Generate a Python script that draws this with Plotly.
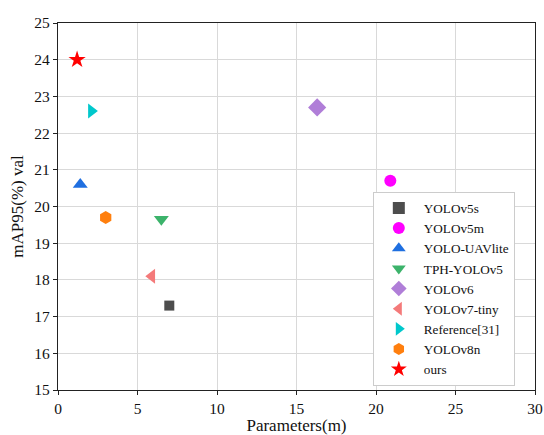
import plotly.graph_objects as go

names = ["YOLOv5s", "YOLOv5m", "YOLO-UAVlite", "TPH-YOLOv5", "YOLOv6",
         "YOLOv7-tiny", "Reference[31]", "YOLOv8n", "ours"]
params = [7.0, 20.9, 1.4, 6.5, 16.3, 5.9, 2.1, 3.0, 1.2]
map95 = [17.3, 20.7, 20.6, 19.65, 22.7, 18.1, 22.6, 19.7, 24.0]
symbols = ["square", "circle", "triangle-up", "triangle-down", "diamond",
           "triangle-left", "triangle-right", "hexagon", "star"]
colors = ["#4d4d4d", "#ff00ff", "#1f6fe0", "#3cb36b", "#b07ed8",
          "#f47a7a", "#00c8cc", "#ff7f0e", "#ff0000"]
sizes = [10, 12, 13, 13, 14, 13, 13, 13, 13]
xticks = [0, 5, 10, 15, 20, 25, 30]
yticks = [15, 16, 17, 18, 19, 20, 21, 22, 23, 24, 25]

fig = go.Figure()
for n, x, y, s, c, sz in zip(names, params, map95, symbols, colors, sizes):
    fig.add_trace(go.Scatter(x=[x], y=[y], mode="markers", name=n,
                             marker=dict(symbol=s, color=c, size=sz, line=dict(width=0))))

font = "Liberation Serif"
fig.update_layout(
    width=544, height=435,
    margin=dict(l=58, r=9, t=23, b=45, autoexpand=False),
    paper_bgcolor="white", plot_bgcolor="white",
    font=dict(family=font, size=15, color="#111"),
    legend=dict(x=0.66, y=0.54, xanchor="left", yanchor="top",
                bordercolor="#cccccc", borderwidth=1, bgcolor="white",
                font=dict(family=font, size=13.2), tracegroupgap=0,
                itemsizing="constant", itemwidth=40),
    xaxis=dict(range=[0, 30], tickvals=xticks, ticktext=[str(v) for v in xticks],
               showgrid=True, gridcolor="#d9d9d9", ticklabeloverflow="allow",
               automargin=False,
               showline=True, linecolor="#222", linewidth=1.2, mirror=True,
               ticks="outside", ticklen=4, tickcolor="#222",
               tickfont=dict(family=font, size=15.5),
               title=dict(text="Parameters(m)", standoff=2, font=dict(family=font, size=17)),
               zeroline=False),
    yaxis=dict(range=[15, 25], tickvals=yticks, showgrid=True, gridcolor="#d9d9d9",
               automargin=False,
               showline=True, linecolor="#222", linewidth=1.2, mirror=True,
               ticks="outside", ticklen=4, tickcolor="#222",
               tickfont=dict(family=font, size=15.5),
               title=dict(text="mAP95(%) val", standoff=6, font=dict(family=font, size=17)),
               zeroline=False),
)
fig.write_html("out.html")
